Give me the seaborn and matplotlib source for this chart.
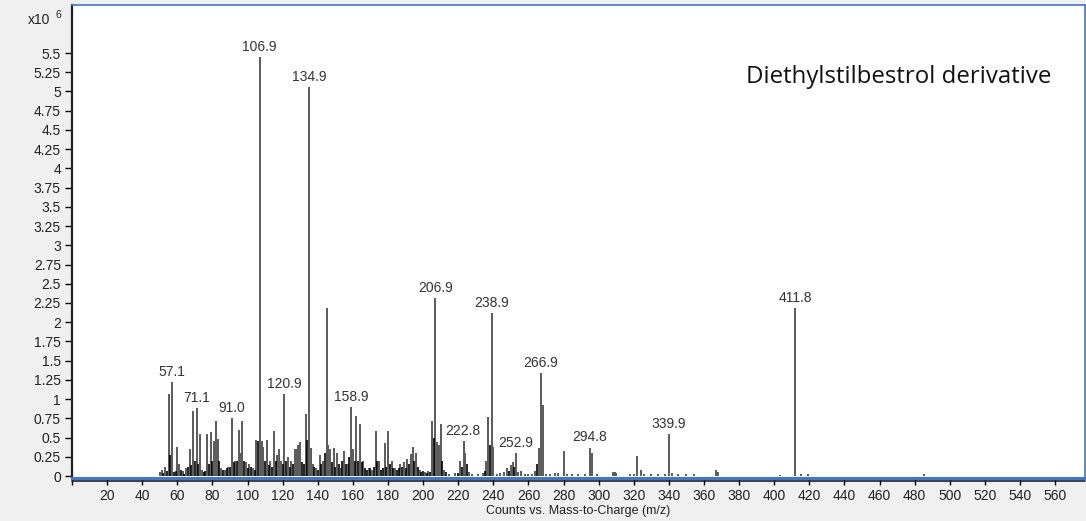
import numpy as np
import pandas as pd
import matplotlib
matplotlib.use("Agg")
import matplotlib.pyplot as plt
import seaborn as sns

# peaks (m/z, counts x10^6)
main_mz = [50, 51, 53, 55, 57, 60, 61, 63, 65, 67, 69, 71, 73, 74, 77, 79, 81, 82, 83, 85,
           87, 89, 91, 93, 95, 96, 97, 99, 101, 103, 105, 107, 108, 109, 111, 113, 115, 117,
           118, 119, 121, 123, 125, 127, 128, 129, 130, 133, 135, 136, 137, 139, 141, 143,
           145, 146, 147, 149, 151, 153, 155, 157, 159, 160, 162, 164, 166, 169, 171, 173,
           175, 178, 180, 182, 184, 187, 189, 191, 193, 194, 196, 198, 201, 203, 205, 207,
           208, 209, 210, 212, 215, 218, 221, 223, 224, 226, 228, 231, 234, 236, 237, 239,
           240, 242, 244, 246, 248, 250, 251, 253, 254, 256, 258, 260, 262, 264, 266, 267,
           268, 270, 272, 275, 277, 280, 282, 285, 288, 292, 295, 296, 299, 308, 309, 310,
           318, 320, 322, 324, 326, 330, 334, 338, 340, 342, 345, 350, 354, 367, 368, 403,
           411.8, 415, 419, 485]
main_int = [0.05, 0.08, 0.12, 1.07, 1.22, 0.38, 0.16, 0.06, 0.1, 0.35, 0.84, 0.88, 0.55, 0.08,
            0.55, 0.57, 0.45, 0.71, 0.48, 0.1, 0.08, 0.12, 0.75, 0.2, 0.6, 0.3, 0.71, 0.18, 0.15,
            0.1, 0.47, 5.45, 0.45, 0.38, 0.47, 0.2, 0.59, 0.27, 0.35, 0.2, 1.07, 0.25, 0.2, 0.35,
            0.35, 0.4, 0.44, 0.81, 5.06, 0.36, 0.15, 0.1, 0.27, 0.2, 2.18, 0.4, 0.35, 0.37, 0.3,
            0.1, 0.32, 0.15, 0.9, 0.35, 0.78, 0.68, 0.2, 0.1, 0.08, 0.59, 0.2, 0.43, 0.59, 0.2,
            0.1, 0.15, 0.18, 0.22, 0.28, 0.38, 0.3, 0.08, 0.05, 0.06, 0.71, 2.31, 0.44, 0.4,
            0.68, 0.08, 0.03, 0.04, 0.2, 0.45, 0.3, 0.05, 0.03, 0.02, 0.04, 0.2, 0.77, 2.12,
            0.38, 0.03, 0.04, 0.05, 0.1, 0.14, 0.18, 0.3, 0.05, 0.07, 0.03, 0.03, 0.03, 0.07,
            0.36, 1.34, 0.92, 0.03, 0.03, 0.04, 0.04, 0.33, 0.02, 0.02, 0.02, 0.03, 0.37, 0.3,
            0.02, 0.05, 0.05, 0.04, 0.02, 0.03, 0.26, 0.08, 0.03, 0.02, 0.02, 0.02, 0.55, 0.04,
            0.02, 0.02, 0.02, 0.08, 0.05, 0.01, 2.19, 0.02, 0.02, 0.02]

# shorter dark sticks between the main ones
minor_mz = [52, 54, 56, 58, 59, 62, 64, 66, 68, 70, 72, 75, 76, 78, 80, 84, 86, 88, 90, 92,
            94, 98, 100, 102, 104, 106, 110, 112, 114, 116, 120, 122, 124, 126, 131, 132, 134,
            138, 140, 142, 144, 148, 150, 152, 154, 156, 158, 161, 163, 165, 167, 168, 170,
            172, 174, 176, 177, 179, 181, 183, 185, 186, 188, 190, 192, 195, 197, 199, 200,
            202, 204, 206, 211, 213, 220, 222, 225, 235, 238, 249, 252, 265]
minor_int = [0.04, 0.06, 0.27, 0.05, 0.06, 0.08, 0.03, 0.12, 0.14, 0.2, 0.15, 0.05, 0.06, 0.15,
             0.2, 0.2, 0.08, 0.1, 0.12, 0.18, 0.2, 0.2, 0.1, 0.12, 0.08, 0.45, 0.2, 0.14, 0.12,
             0.2, 0.15, 0.2, 0.12, 0.15, 0.18, 0.15, 0.47, 0.12, 0.08, 0.15, 0.3, 0.18, 0.12,
             0.15, 0.2, 0.15, 0.25, 0.2, 0.2, 0.18, 0.1, 0.08, 0.1, 0.12, 0.2, 0.08, 0.1, 0.12,
             0.15, 0.1, 0.08, 0.1, 0.12, 0.1, 0.15, 0.2, 0.12, 0.05, 0.06, 0.04, 0.05, 0.5, 0.2,
             0.05, 0.04, 0.12, 0.15, 0.06, 0.4, 0.06, 0.12, 0.15]

# labelled peaks
label_mz = [57.1, 71.1, 91.0, 106.9, 120.9, 134.9, 158.9, 206.9, 222.8, 238.9, 252.9,
            266.9, 294.8, 339.9, 411.8]
label_int = [1.22, 0.88, 0.75, 5.45, 1.07, 5.06, 0.9, 2.31, 0.45, 2.12, 0.3, 1.34, 0.37,
             0.55, 2.19]

main = pd.DataFrame({"mz": main_mz, "counts": main_int})
minor = pd.DataFrame({"mz": minor_mz, "counts": minor_int})

sns.set_style("white")
plt.rcParams["font.family"] = ["Liberation Sans", "DejaVu Sans"]

fig = plt.figure(figsize=(10.86, 5.21), dpi=100, facecolor="#f0f0f0")
ax = fig.add_axes([0.0663, 0.0825, 0.9328, 0.908])
ax.set_facecolor("white")

ax.vlines(main["mz"], 0, main["counts"], color="#5a5a5a", lw=1.4)
ax.vlines(minor["mz"], 0, minor["counts"], color="black", lw=1.2)

for m, h in zip(label_mz, label_int):
    ax.text(m, h + 0.04, f"{m:.1f}", ha="center", va="bottom", fontsize=10, color="#333333")

ax.text(0.967, 0.848, "Diethylstilbestrol derivative", transform=ax.transAxes,
        ha="right", va="center", fontsize=17.3, family=["Open Sans", "DejaVu Sans"],
        color="#111111")

ax.set_xlim(0, 577)
ax.set_ylim(-0.026, 6.125)
ax.set_xticks(np.arange(0, 561, 20))
ax.set_xticklabels([""] + [str(v) for v in range(20, 561, 20)])
yt = np.arange(0, 5.51, 0.25)
ax.set_yticks(yt)
ax.set_yticklabels([f"{v:g}" for v in yt])
ax.tick_params(axis="both", which="major", length=5, width=1, color="black",
               labelsize=10, labelcolor="#222222", bottom=True, left=True, pad=3)

for s in ["top", "right"]:
    ax.spines[s].set_color("#3b78d4")
    ax.spines[s].set_linewidth(1.2)
ax.spines["left"].set_color("#222222")
ax.spines["left"].set_linewidth(1.6)
ax.spines["bottom"].set_color("#3b78d4")
ax.spines["bottom"].set_linewidth(2.2)
# black axis line just under the blue frame
ax.axhline(-0.06, color="#222222", lw=1.2, clip_on=False)

ax.set_xlabel("Counts vs. Mass-to-Charge (m/z)", fontsize=9, color="#222222", labelpad=1)
fig.text(0.026, 0.962, "x10", fontsize=10, color="#222222", va="center")
fig.text(0.051, 0.972, "6", fontsize=7.5, color="#222222", va="center")

fig.savefig("out.png", dpi=100, facecolor=fig.get_facecolor())
